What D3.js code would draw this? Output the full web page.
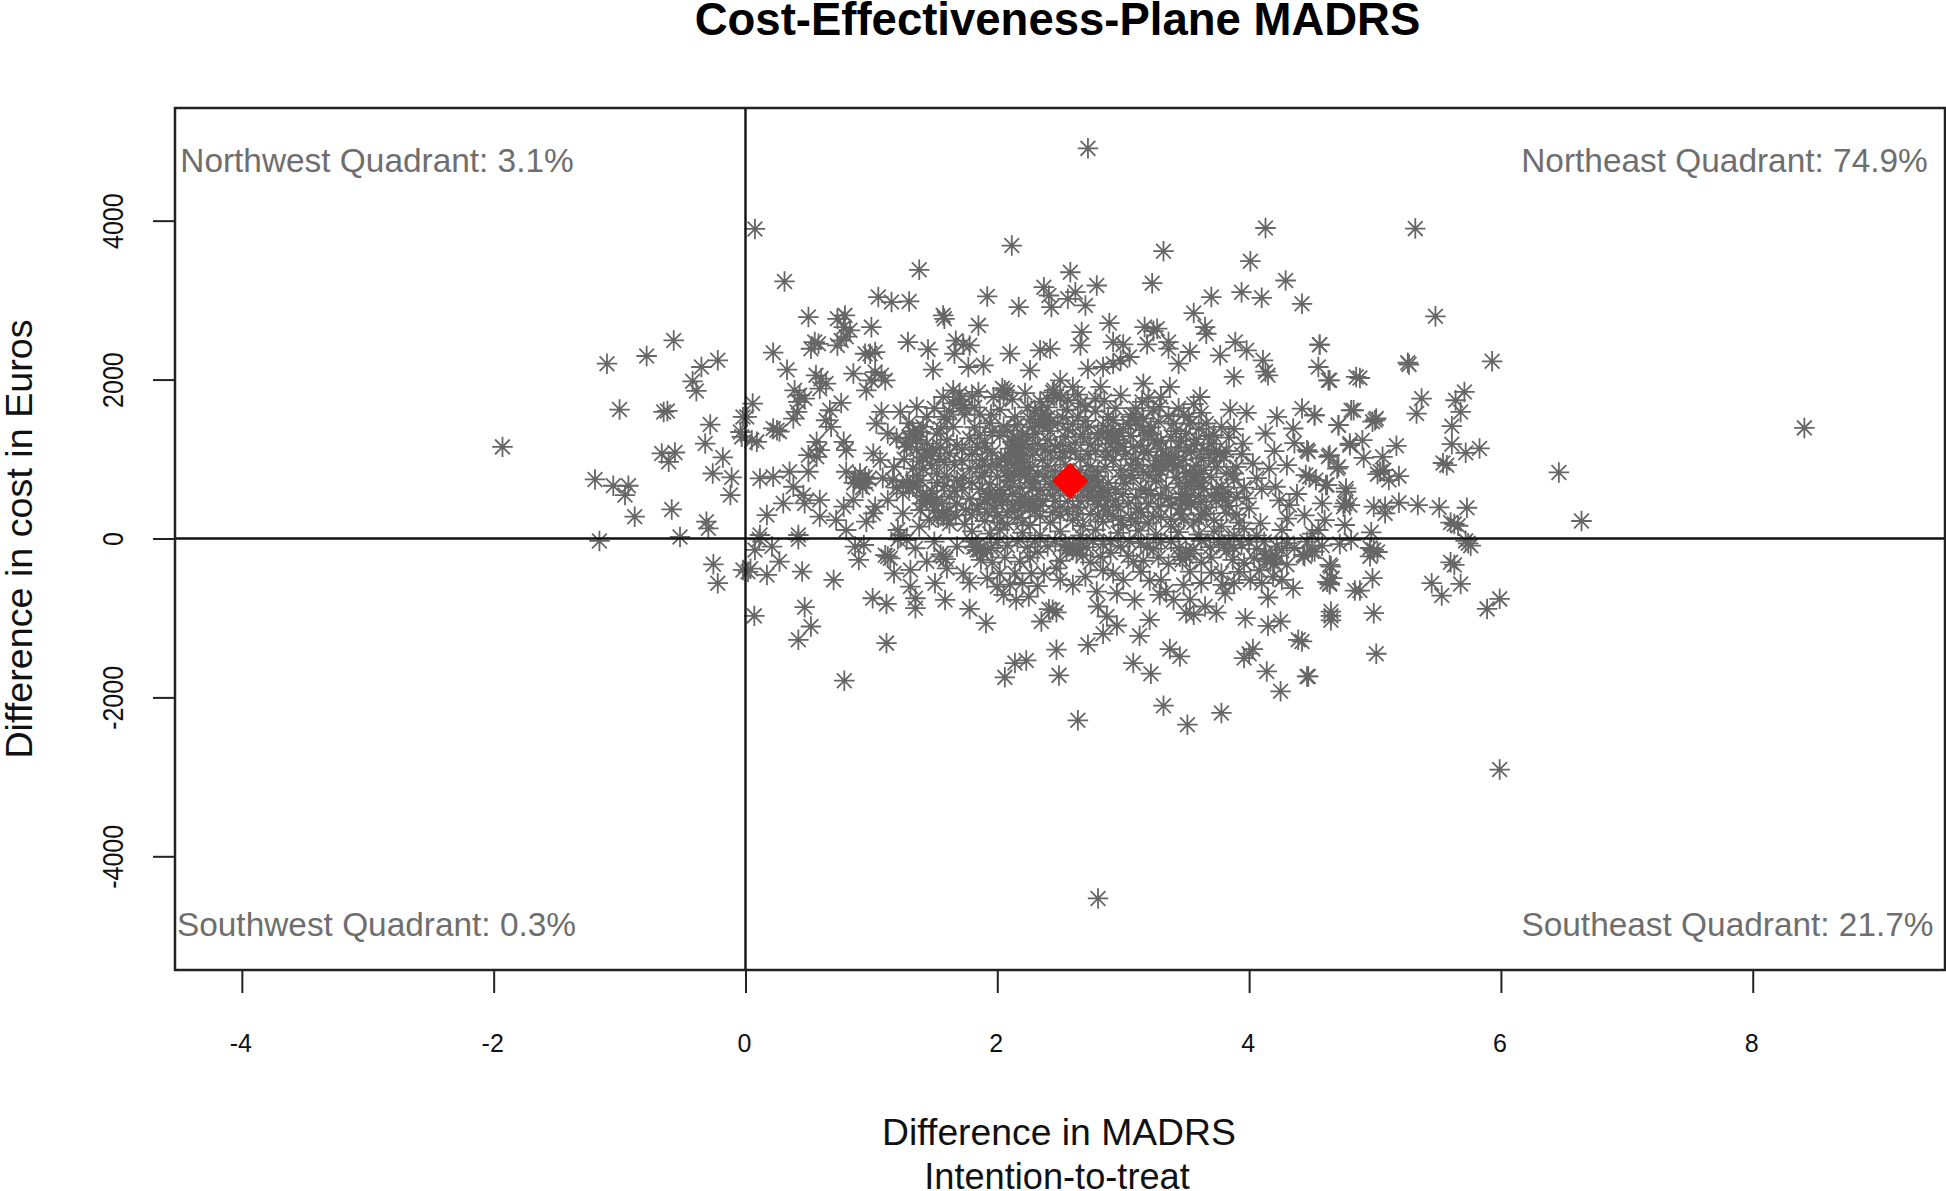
<!DOCTYPE html>
<html>
<head>
<meta charset="utf-8">
<script src="https://d3js.org/d3.v7.min.js"></script>
<style>
  html, body { margin: 0; background: #fff; }
  text { font-family: "Liberation Sans", Arial, sans-serif; }
</style>
</head>
<body>
<svg id="chart" width="1946" height="1191"></svg>
<script>
var xTicks = [-4, -2, 0, 2, 4, 6, 8];
var yTicks = [-4000, -2000, 0, 2000, 4000];
var quadrantNames = ["Northwest", "Northeast", "Southwest", "Southeast"];
var quadrantShares = [3.1, 74.9, 0.3, 21.7];
var meanPoint = [2.58, 727];

// [difference in MADRS, difference in cost]
var farPoints = [[-1.93,1153],[8.41,1392],[6.46,831],[6.64,220],[5.99,-2908],[2.72,4910],[2.8,-4530],[2.64,-2288],[3.51,-2343],[3.78,-2196],[3.32,-2104]];

var northwestPoints = [[-1.1,2200],[-0.785,2297],[-0.57,2493],[-0.35,2158],[-0.22,2242],[-0.42,1978],[-0.39,1857],[-1,1622],[-0.65,1593],[-0.62,1605],
  [-0.28,1434],[-0.32,1195],[-0.665,1070],[-0.56,1082],[-0.61,965],[-0.18,1020],[-0.26,818],[-1.195,743],[-1.05,664],[-0.93,664],[-0.957,546],
  [-0.11,768],[-0.12,546],[-0.88,274],[-0.586,366],[-0.31,211],[-0.295,128],[-0.52,20],[-0.03,1279],[-0.04,1340],[-0.02,1530]];

var southwestPoints = [[-1.16,-31],[-0.255,-325],[-0.22,-563],[-0.02,-396]];

var northeastLeft = [[0.075,3896],[0.31,3235],[1.38,3381],[0.057,1698],[0.01,1530],[0.05,1237],[0.09,1216],[0.25,1363],[0.22,1385],[0.27,1345],
  [0.22,2338],[0.33,2125],[0.5,2787],[0.79,2808],[0.73,2765],[0.78,2660],[0.83,2620],[0.76,2492],[0.73,2430],[0.8,2540],
  [1.055,3038],[1.16,2975],[1.3,2983],[1.57,2808],[1.58,2765],[1,2660],[1.29,2472],[1.45,2380],[1.49,2125],[1.66,2325],[1.67,2490],
  [0.55,2472],[0.58,2450],[0.52,2388],[0.99,2325],[0.95,2325],[1.03,2346],[0.857,2075],[1.03,2095],[1.08,2054],[1.11,1990],[0.96,1865],[1,1990],
  [0.56,2054],[0.6,2012],[0.64,1950],[0.59,1885],[0.39,1865],[0.43,1803],[0.47,1761],[0.42,1719],[0.41,1593],[0.38,1509],
  [0.76,1706],[0.67,1614],[0.64,1488],[0.68,1405],[0.78,1216],[0.8,1112],[0.565,1216],[0.565,1028],[0.59,1112],[0.5,1049],
  [0.115,756],[0.22,777],[0.35,840],[0.5,840],[0.38,651],[0.46,546],[0.59,484],[0.47,442],[0.3,442],[0.17,295],[0.59,274],[0.72,232],[0.115,44],[0.42,44],[0.8,107],
  [0.91,735],[0.86,700],[0.96,690],[0.91,819],[0.8,840],[1.015,1070],[1.07,986],[0.857,484],[0.78,400],[1.015,316],[1.03,400],[0.96,211],[1.21,107],[1.23,44],
  [1.08,1593],[1.23,1593],[1.04,1447],[1.13,1321],[1.36,1656],[1.44,1530],[1.65,1865],[1.57,1781],[1.7,1823],[1.33,1321],[1.28,1153],[1.44,1070],
  [1.33,651],[1.3,640],[1.36,665],[1.25,567],[1.44,525],[1.41,540],[1.47,510],[1.57,316],[1.52,1321],[1.62,1070],[1.52,818],[1.68,735],[1.39,358],[1.25,316],
  [1.65,1405],[1.17,735],[1.41,1405],[1.68,442],[1.46,232],[1.36,1240],[1.44,1195],[1.33,880],[1.41,880],[1.62,525],[1.5,358],[1.26,1000],[1.36,1120],[1.18,900],
  [1.5,1640],[1.6,1500],[1.3,1450],[1.2,1260],[1.55,1150],[1.48,920],[1.6,780],[1.72,1120],[1.74,1560],[1.72,640],[1.2,640],[1.13,480],[1.09,760],[1.62,190],[1.38,150]];

var northeastTop = [[2.115,3687],[3.32,3616],[4.13,3908],[4.01,3490],[4.29,3247],[3.23,3213],[2.58,3351],[2.79,3184],[2.37,3163],[1.92,3046],[2.17,2912],
  [2.43,2912],[2.41,3058],[2.56,3016],[2.62,3100],[2.7,2933],[3.7,3038],[3.94,3100],[4.1,3029],[4.42,2954],[3.56,2837],[3.65,2661],[3.66,2577],[2.89,2711],[1.85,2682],
  [2.67,2598],[2.66,2430],[3.17,2661],[3.27,2640],[3.19,2443],[3.36,2472],[2.92,2472],[3,2443],[3.05,2284],[3.53,2347],[3.44,2200],[3.77,2305],[3.89,2472],[3.98,2368],
  [4.11,2242],[4.15,2054],[4.13,2100],[3.88,2033],[3.61,1781],[3.56,1690],[3.85,1622],[3.98,1581],[1.78,2430],[1.73,2440],[2.1,2326],[2.34,2368],[2.42,2388],[1.89,2179],
  [1.77,2158],[2.26,2116],[2.72,2137],[2.84,2158],[2.92,2200],[2.98,2240],[3.24,2610],[3.36,2390]];

var northeastCentre = [[2.06,1865],[1.85,1844],[1.97,1781],[2.45,1865],[2.5,1991],[2.6,1907],[2.82,1907],[3.16,1949],[3.37,1907],[2.7,1656],[2.92,1489],[3.15,1719],
  [3.29,1656],[3.4,1447],[3.53,1447],[3.66,1447],[3.78,1405],[1.8,1790],[2.12,1750],[2.22,1830],[2.34,1720],[2.56,1740],[2.64,1810],
  [2.85,1730],[2.98,1800],[3.2,1770],[1.74,1640],[1.86,1560],[2.02,1620],[2.14,1530],[2.3,1610],[2.36,1570],[2.4,1650],[2.52,1520],
  [2.78,1600],[2.94,1640],[3.08,1560],[3.16,1510],[3.24,1610],[3.36,1540],[3.44,1640],[1.82,1400],[1.94,1450],[2.08,1360],[2.16,1430],[2.2,1310],[2.28,1400],[2.36,1470],
  [2.42,1350],[2.6,1440],[2.68,1310],[2.84,1420],[2.9,1350],[3.04,1440],[3.2,1330],[3.22,1400],[3.28,1470],[3.5,1320],[3.6,1380],[1.78,1260],[1.9,1200],[2.02,1290],
  [2.12,1220],[2.18,1150],[2.24,1270],[2.32,1190],[2.4,1240],[2.46,1160],[2.54,1280],[2.62,1210],[2.74,1180],[2.8,1260],[2.96,1200],[3.06,1290],[3.14,1170],[3.3,1230],
  [3.38,1280],[3.44,1150],[3.58,1250],[3.7,1190],[3.84,1270],[1.8,1060],[1.88,990],[1.96,1080],[2.06,1010],[2.14,1090],[2.2,960],[2.28,1050],[2.36,990],[2.42,1080],
  [2.5,1010],[2.58,1100],[2.66,1000],[2.72,1060],[2.86,1110],[2.92,990],[3.02,1060],[3.1,1000],[3.2,1090],[3.26,980],[3.34,1050],[3.48,990],[3.54,1090],[3.62,1010],
  [3.68,1060],[1.78,880],[1.9,830],[2,920],[2.08,850],[2.18,820],[2.26,900],[2.32,820],[2.4,910],[2.46,850],[2.54,930],[2.66,860],[2.74,910],[2.8,840],[2.86,900],
  [2.98,860],[3.06,920],[3.16,840],[3.24,910],[3.3,850],[3.4,900],[3.5,830],[3.58,920],[3.64,860],[3.74,900],[3.82,820],[1.8,700],[1.86,620],[1.94,680],[2.02,610],
  [2.1,730],[2.18,640],[2.26,700],[2.34,610],[2.42,680],[2.5,620],[2.7,720],[2.76,640],[2.82,600],[2.88,700],[2.94,620],[3.02,690],[3.08,760],[3.18,610],[3.26,720],
  [3.34,640],[3.42,770],[3.5,660],[3.56,720],[3.64,620],[3.7,770],[3.78,650],[3.88,740],[1.78,500],[1.86,430],[1.94,520],[1.98,380],[2.04,460],[2.12,420],[2.2,530],
  [2.26,390],[2.36,470],[2.44,540],[2.5,400],[2.56,470],[2.64,390],[2.72,520],[2.8,430],[2.88,480],[2.96,400],[3.1,520],[3.2,440],[3.3,540],[3.38,420],[3.46,520],
  [3.54,430],[3.6,540],[3.66,390],[3.74,470],[3.84,410],[1.8,300],[1.9,220],[2.0,290],[2.08,180],[2.16,260],[2.26,170],[2.34,280],[2.42,200],[2.5,300],[2.6,230],
  [2.68,160],[2.74,310],[2.84,210],[2.92,280],[3,170],[3.06,260],[3.14,330],[3.2,190],[3.3,270],[3.38,150],[3.46,300],[3.56,200],[3.62,300],[3.72,230],[3.78,150],[3.9,300],
  [1.8,90],[1.94,60],[2.02,110],[2.2,70],[2.34,40],[2.5,90],[2.66,40],[2.78,110],[2.96,70],[3.12,100],[3.26,50],[3.44,80],[3.6,50],[3.72,90],[3.88,40]];

// the solid patches of the cloud, where the stars overlap
var northeastCore = [[2.04,1890],[2.08,1840],[2.05,1810],[2.44,1840],[2.47,1800],[2.5,1770],[2.4,1760],[2.35,1540],[2.38,1490],[2.33,1450],[2.4,1520],
  [2.36,1420],[2.42,1470],[2.13,1280],[2.16,1240],[2.14,1180],[2.17,1120],[2.12,1060],[2.16,1000],[2.14,940],[2.18,880],[2.13,810],[2.2,1180],[2.1,1130],[2.2,1040],[2.09,960],
  [2.22,780],[2.25,850],[2.28,1130],[2.08,780],[1.96,525],[1.99,490],[1.93,560],[2.02,530],[1.9,490],[2.05,560],[2.22,440],[2.25,470],[2.19,410],[2.28,430],[2.18,480],
  [2.32,500],[2.76,525],[2.74,590],[2.78,660],[2.76,740],[2.79,780],[2.71,640],[2.82,530],[2.84,640],[2.71,780],[2.88,570],[2.91,1279],[2.94,1240],[2.88,1310],[2.97,1330],
  [2.9,1190],[3.0,1380],[3.16,1363],[3.13,1420],[3.2,1300],[3.24,1240],[3.1,1480],[3.27,1190],[3.06,1530],[3.36,986],[3.39,950],[3.34,1030],[3.41,1030],[3.32,930],
  [3.44,920],[3.5,484],[3.52,520],[3.47,440],[3.54,450],[3.49,560],[3.45,380],[3.56,777],[3.58,740],[3.53,820],[3.6,810],[3.54,700],[3.62,700],[3.79,525],[3.76,560],
  [3.81,480],[3.83,580],[3.74,620],[3.77,1070],[3.8,1030],[3.74,1110],[3.82,1100],[3.72,980],[1.62,1600],[1.65,1700],[1.7,1740],[1.58,1530],[1.72,1680],[1.33,1350],
  [1.36,1280],[1.3,1270],[1.39,1340],[1.27,1210],[1.44,1110],[1.47,1040],[1.41,1020],[1.49,1130],[1.38,970],[1.33,700],[1.28,720],[1.39,730],[1.36,790],[1.25,660],
  [1.44,480],[1.49,440],[1.4,440],[1.52,490],[1.57,280],[1.6,340],[1.53,260],[1.6,250],[0.91,690],[0.95,770],[0.87,770],[0.93,640],[0.98,750],[1.55,1380],[1.6,1240],
  [1.68,1180],[1.58,960],[1.66,930],[1.72,980],[1.58,660],[1.66,600],[1.73,760],[1.56,440],[1.75,360],[1.67,290],[1.74,180],[1.52,700],[1.48,600],[1.54,1000]];

var northeastFill = [[1.82,1650],[1.95,1560],[2.24,1650],[2.26,1500],[2.48,1450],[2.55,1620],[2.64,1530],[2.7,1480],[2.56,1370],[2.72,1400],[2.8,1330],
  [2.94,1100],[3.0,1150],[2.86,1030],[2.78,1100],[2.62,1100],[2.66,1280],[2.5,1180],[2.52,1090],[2.38,1110],[2.3,1320],[2.05,1410],[1.96,1340],[1.86,1300],[1.84,1150],[1.92,1130],
  [1.95,920],[1.86,900],[2.03,1000],[1.88,780],[2.0,780],[2.3,720],[2.38,780],[2.46,770],[2.56,740],[2.44,640],[2.52,680],[2.28,640],[2.1,650],[2.64,720],[2.64,620],[2.6,540],
  [2.46,470],[2.34,410],[2.12,560],[2.08,330],[2.14,350],[2.3,340],[2.44,330],[2.56,340],[2.64,300],[2.66,470],[2.85,400],[2.94,480],[3.0,560],[3.04,440],[3.12,380],[3.14,620],
  [3.22,560],[3.28,400],[3.36,500],[3.06,800],[2.98,780],[3.12,930],[3.2,790],[3.28,800],[3.44,690],[3.62,460],[3.7,540],[3.66,310],[3.6,240],[3.48,240],[3.38,240],[3.24,280],
  [3.1,210],[2.98,230],[2.88,350],[2.8,300],[2.2,200],[2.02,200],[1.92,330],[1.84,370],[3.46,1230],[3.56,1180],[3.5,1100],[3.64,1120],[3.68,1290],[3.9,900],[3.94,1060],
  [3.96,640],[3.9,520],[3.92,200],[3.82,320],[4.0,380],[3.3,1130],[3.16,1090],[3.08,1150],[3.42,1350],[3.52,1530],[3.62,1580],[3.72,1300],[3.88,1380],[3.1,1640],[2.88,1530],
  [2.78,1760],[2.66,1700],[3.3,1780],[3.48,1560]];

var northeastRight = [[4.56,2438],[4.55,2158],[4.63,1991],[4.88,2020],[5.26,2212],[5.27,2190],[5.93,2230],[5.48,2796],[5.32,3900],[4.56,2439],[4.64,1991],[4.85,2033],
  [4.22,1531],[4.42,1635],[4.52,1551],[4.81,1614],[4.71,1426],[4.35,1384],[4.8,1195],[4.46,1112],[4.64,1049],[4.71,902],[4.3,923],[4.21,651],[4.32,421],[4.48,777],
  [4.61,672],[4.77,630],[4.75,400],[4.13,1321],[3.95,1195],[3.77,1070],[4.03,944],[3.87,818],[3.98,505],[4.09,191],[4.26,107],[5.71,1844],[5.64,1740],[5.68,1593],
  [5.37,1761],[5.33,1572],[5.61,1413],[5.61,1187],[5.72,1078],[5.83,1133],[4.83,1614],[4.52,1551],[4.71,1426],[5,1488],[5.01,1510],[4.98,1470],[4.8,1174],[4.9,1237],
  [5.17,1166],[4.47,1091],[4.63,1028],[4.7,881],[4.91,1015],[5.06,1028],[5.04,839],[5.02,810],[5.07,860],[5.11,735],[5.19,785],[5.57,923],[5.54,950],[4.45,798],[4.53,735],
  [4.62,672],[4.77,588],[4.58,442],[4.76,442],[4.8,420],[4.99,400],[5.08,400],[5.08,316],[5.19,450],[5.34,421],[5.51,391],[5.73,387],[5.63,182],[5.6,200],[5.66,160],
  [4.6,232],[4.55,107],[4.76,170],[4.97,77],[4.1,620],[4.2,1100],[4.36,1200],[4.06,760],[4.16,880],[4.24,480],[4.38,560],[4.44,290],[4.3,250],[3.96,120],[4.06,40],[4.5,60]];

var southeastLeft = [[0.02,-420],[0.04,-380],[0.17,-459],[0.07,-974],[0.27,-291],[0.21,-102],[0.075,-144],[0.11,-10],[0.45,-417],[0.42,-10],[0.7,-521],[0.47,-865],[0.52,-1108],
  [0.42,-1275],[1.12,-1317],[0.785,-1790],[1.01,-752],[1.12,-823],[1.35,-752],[1.35,-877],[1.585,-773],[1.505,-563],[1.31,-605],[1.18,-438],[0.9,-270],[0.87,-102],[0.94,-82],
  [1.13,-228],[1.11,-210],[1.15,-250],[1.35,-123],[1.57,-228],[1.55,-200],[1.59,-260],[1.44,-291],[1.6,-375],[1.31,-396],[1.68,-102],[1.21,-10],[1.28,-20],[1.5,-40]];

var southeastRight = [[4.46,-1736],[4.25,-1924],[4.14,-1673],[2.06,-1748],[2.49,-1723],[2.14,-1568],[2.23,-1535],[2.47,-1400],[2.72,-1338],[3.08,-1568],[3.22,-1702],[3.37,-1392],
  [3.45,-1484],[4.03,-1392],[3.96,-1505],[4,-1450],[4.39,-1275],[1.78,-886],[1.91,-1065],[2.35,-1045],[2.44,-898],[2.41,-890],[2.47,-930],[2.84,-1200],[2.95,-1095],[3.21,-1024],
  [3.13,-1225],[3.97,-1003],[4.15,-1099],[4.25,-1045],[4.65,-974],[4.65,-920],[4.65,-1030],[4.84,-655],[4.15,-743],[4.35,-626],[4.01,-521],[4.19,-479],[4.26,-521],[4.64,-333],
  [4.64,-563],[4.66,-500],[3.74,-932],[3.56,-960],[3.65,-856],[3.5,-940],[3.53,-770],[3.34,-668],[3.4,-773],[3.29,-710],[3.48,-585],[3.53,-417],[3.79,-585],[3.78,-440],[3.81,-690],
  [3.09,-773],[3.21,-530],[2.95,-689],[2.79,-668],[2.8,-856],[2.87,-982],[2.92,-438],[3,-520],[2.84,-400],[3.08,-291],[2.6,-585],[2.37,-438],[2.47,-375],[1.78,-555],[1.73,-440],
  [2,-605],[2.05,-710],[2.15,-773],[2.25,-731],[2.14,-438],[2.02,-440],[2.2,-560],[2.27,-440],[2.18,-291],[1.84,-144],[1.87,-270],[3.96,-310],[4.17,-291],[4.14,-270],[4.2,-310],
  [4.43,-207],[4.52,-165],[4.04,-250],[4.26,-150],[1.81,-110],[1.92,-150],[2.55,-150],[2.63,-190],[2.71,-110],[3.19,-110],[3.45,-230],[3.5,-150],[3.82,-150],[3.87,-270],[3.69,-110],
  [5.63,-333],[5.6,-300],[5.68,-572],[5.45,-563],[5.53,-718],[5.99,-760],[5.89,-886],[4.65,-354],[4.64,-576],[4.62,-545],[4.98,-500],[4.88,-655],[4.99,-940],[5.01,-1451],[4.47,-1736],
  [4.42,-1296],[4.81,-19],[5.74,-61],[5.72,-30],[5.76,-90],[4.99,-144],[4.96,-120],[5.02,-170],[4.96,-225],[4.5,-165],[4.44,-225],[2.3,-40],[2.9,-30],[3.3,-50],[3.62,-30],[4,-40],[4.3,-60],[4.72,-70]];

// the crowded band just under the zero line
var southeastBand = [[1.86,-145],[1.83,-100],[1.89,-190],[1.95,-120],[1.8,-40],[2.6,-145],[2.57,-100],[2.63,-120],[2.66,-60],[2.54,-70],[2.68,-210],[3.5,-228],[3.53,-190],[3.47,-270],
  [3.56,-140],[3.44,-120],[4.17,-240],[4.13,-200],[4.21,-220],[3.8,-80],[3.84,-40],[3.76,-50],[3.88,-120],[2.0,-50],[2.08,-90],[2.16,-40],[2.24,-110],[2.4,-100],[2.46,-40],
  [2.76,-30],[2.84,-70],[2.98,-100],[3.05,-40],[3.14,-60],[3.24,-130],[3.38,-40],[3.94,-80],[4.06,-130],[4.12,-40],[4.22,-100],[4.36,-120],[4.46,-40],[4.58,-90],
  [1.96,-300],[2.06,-240],[2.26,-240],[2.32,-170],[2.5,-280],[2.74,-300],[2.82,-230],[2.9,-180],[3.04,-220],[3.16,-280],[3.28,-240],[3.36,-320],[3.62,-300],[3.7,-240],
  [3.92,-420],[4.08,-400],[4.3,-330],[1.92,-500],[2.1,-580],[2.32,-600],[2.5,-520],[2.7,-480],[3.14,-420],[3.3,-520],[3.62,-560],[3.7,-430],[3.88,-560],[4.1,-560]];

var allPoints = [farPoints, northwestPoints, southwestPoints, northeastLeft, northeastTop, northeastCentre, northeastCore, northeastFill, northeastRight, southeastLeft, southeastRight, southeastBand];

var svg = d3.select("#chart");
var box = { left: 175, right: 1945, top: 108, bottom: 970 };

var x = d3.scaleLinear().domain([-4.531, 9.527]).range([box.left, box.right]);
var y = d3.scaleLinear().domain([-5431, 5418]).range([box.bottom, box.top]);

// R pch=8: a plus and a cross on top of each other
var star = {
    draw: function (ctx, size) {
        var r = Math.sqrt(size) / 2;
        var d = r * 0.72;
        ctx.moveTo(-r, 0); ctx.lineTo(r, 0);
        ctx.moveTo(0, -r); ctx.lineTo(0, r);
        ctx.moveTo(-d, -d); ctx.lineTo(d, d);
        ctx.moveTo(-d, d); ctx.lineTo(d, -d);
    }
};

svg.append("g").selectAll("path")
    .data(d3.merge(allPoints))
    .enter()
    .append("path")
    .attr("d", d3.symbol().type(star).size(420))
    .attr("transform", function (d) { return "translate(" + x(d[0]) + "," + y(d[1]) + ")"; })
    .attr("fill", "none")
    .attr("stroke", "#666")
    .attr("stroke-width", 1.8);

// reference lines through zero
svg.append("line").attr("x1", x(0)).attr("x2", x(0)).attr("y1", box.top).attr("y2", box.bottom)
    .attr("stroke", "#111").attr("stroke-width", 2.4);
svg.append("line").attr("x1", box.left).attr("x2", box.right).attr("y1", y(0)).attr("y2", y(0))
    .attr("stroke", "#111").attr("stroke-width", 2.4);

svg.append("path")
    .attr("d", d3.symbol().type(d3.symbolSquare).size(520))
    .attr("transform", "translate(" + x(meanPoint[0]) + "," + y(meanPoint[1]) + ") rotate(45)")
    .attr("fill", "#f00")
    .attr("stroke", "#f00")
    .attr("stroke-width", 3)
    .attr("stroke-linejoin", "round");

svg.append("rect")
    .attr("x", box.left).attr("y", box.top)
    .attr("width", box.right - box.left).attr("height", box.bottom - box.top)
    .attr("fill", "none").attr("stroke", "#222").attr("stroke-width", 2.5);

var xAxis = svg.append("g")
    .attr("transform", "translate(0," + box.bottom + ")")
    .call(d3.axisBottom(x).tickValues(xTicks).tickSize(23).tickPadding(0).tickFormat(String));
xAxis.select(".domain").remove();
xAxis.selectAll("line").attr("stroke", "#222").attr("stroke-width", 2);
xAxis.selectAll("text")
    .attr("x", -1.5).attr("y", 82).attr("dy", 0)
    .attr("font-size", 25).attr("fill", "#111");

var yAxis = svg.append("g")
    .attr("transform", "translate(" + box.left + ",0)")
    .call(d3.axisLeft(y).tickValues(yTicks).tickSize(22).tickFormat(String));
yAxis.select(".domain").remove();
yAxis.selectAll("line").attr("stroke", "#222").attr("stroke-width", 2);
yAxis.selectAll("text")
    .attr("x", 0).attr("y", 0).attr("dy", 0)
    .attr("transform", "translate(-52,0) rotate(-90) scale(1,1.15)")
    .attr("text-anchor", "middle")
    .attr("font-size", 25).attr("fill", "#111");

function label(txt, px, py, size, weight, fill) {
    return svg.append("text")
        .attr("x", px).attr("y", py)
        .attr("text-anchor", "middle")
        .attr("font-size", size)
        .attr("font-weight", weight)
        .attr("fill", fill)
        .text(txt);
}

label("Cost-Effectiveness-Plane MADRS", 1057.5, 35, 45.5, "bold", "#000");
label("Difference in MADRS", 1059, 1145, 37.3, "normal", "#111");
label("Intention-to-treat", 1057, 1189, 36.2, "normal", "#111");
label("Difference in cost in Euros", 0, 0, 37.7, "normal", "#111")
    .attr("transform", "translate(32,539) rotate(-90)");

var quadrantSpots = [[377, 172], [1724.5, 172], [376.5, 936], [1727.5, 936]];
quadrantNames.forEach(function (name, i) {
    label(name + " Quadrant: " + quadrantShares[i] + "%", quadrantSpots[i][0], quadrantSpots[i][1], 33.4, "normal", "#6e6e6e");
});
</script>
</body>
</html>
